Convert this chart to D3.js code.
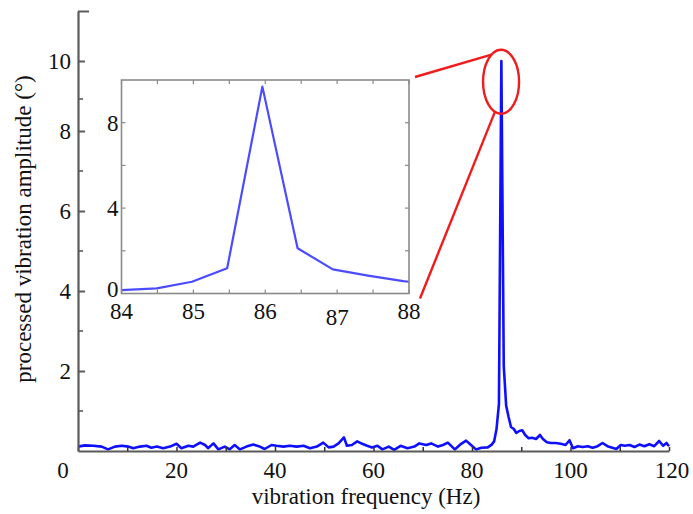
<!DOCTYPE html>
<html>
<head>
<meta charset="utf-8">
<script src="https://cdn.jsdelivr.net/npm/d3@7/dist/d3.min.js"></script>
<style>
  html, body { margin: 0; padding: 0; background: #ffffff; }
  svg { display: block; }
  text { font-family: "Liberation Serif", "Times New Roman", Times, serif; fill: #111; }
</style>
</head>
<body>
<svg id="chart" width="693" height="514"></svg>
<script>
// ---------- data ----------
const freqHz = [
  0, 1.4, 3.1, 4.8, 6.1, 7.5, 8.9, 10.2, 11.2, 12.6, 13.9, 14.9, 16.0, 17.3, 18.7, 20.0,
  21.0, 22.4, 23.4, 24.8, 25.8, 26.4, 27.5, 28.5, 29.8, 30.8, 31.8, 32.9, 34.2, 35.6,
  36.9, 37.9, 39.3, 40.3, 41.7, 43.0, 44.4, 45.8, 47.1, 48.5, 49.8, 50.9, 51.9, 52.9,
  54.0, 54.6, 55.6, 56.7, 57.7, 58.7, 59.7, 60.8, 61.8, 63.1, 64.2, 65.5, 66.9, 68.3,
  69.3, 70.7, 71.7, 73.1, 74.1, 75.1, 76.5, 77.8, 78.8, 79.8, 80.8, 81.9, 83.2,
  84.0, 84.49, 84.98, 85.47, 85.96, 86.45, 86.94, 87.43, 87.92,
  88.5, 89.0, 89.6, 90.2, 90.8, 91.5, 92.2, 93.0, 93.8, 94.4, 95.2, 96.0, 97.0, 98.0,
  99.0, 99.8, 100.5, 101.5, 102.5, 103.5, 104.5, 105.5, 106.5, 107.5, 108.5, 109.3,
  110.2, 111.0, 112.0, 113.0, 114.0, 115.0, 116.0, 117.0, 118.0, 118.8, 119.5, 120.0
];
const amplitude = [
  0.11, 0.14, 0.13, 0.11, 0.04, 0.11, 0.13, 0.11, 0.07, 0.11, 0.13, 0.08, 0.11, 0.07, 0.11, 0.18,
  0.07, 0.13, 0.11, 0.21, 0.15, 0.07, 0.19, 0.04, 0.11, 0.04, 0.15, 0.04, 0.11, 0.16,
  0.11, 0.05, 0.15, 0.13, 0.11, 0.13, 0.11, 0.13, 0.07, 0.11, 0.21, 0.09, 0.11, 0.19,
  0.34, 0.13, 0.15, 0.24, 0.18, 0.13, 0.09, 0.13, 0.04, 0.11, 0.03, 0.13, 0.07, 0.11,
  0.19, 0.15, 0.19, 0.11, 0.15, 0.21, 0.04, 0.18, 0.26, 0.15, 0.04, 0.08, 0.09,
  0.16, 0.24, 0.55, 1.18, 9.75, 2.12, 1.13, 0.85, 0.60,
  0.55, 0.45, 0.50, 0.52, 0.40, 0.32, 0.33, 0.30, 0.40, 0.30, 0.22, 0.20, 0.20, 0.18,
  0.15, 0.27, 0.07, 0.12, 0.10, 0.12, 0.08, 0.12, 0.20, 0.12, 0.08, 0.05,
  0.15, 0.13, 0.15, 0.10, 0.16, 0.12, 0.17, 0.12, 0.25, 0.13, 0.20, 0.12
];
// zoomed inset around the resonance
const insetFreq = [84.0, 84.49, 84.98, 85.47, 85.96, 86.45, 86.94, 87.43, 87.92, 88.41];
const insetAmp  = [0.16, 0.24, 0.55, 1.18, 9.69, 2.12, 1.13, 0.84, 0.58, 0.40];

const xTicks = [0, 10, 20, 30, 40, 50, 60, 70, 80, 90, 100, 110, 120];
const xTickLabels = [0, 20, 40, 60, 80, 100, 120];
const yTickValues = [2, 4, 6, 8, 9.75, 11];
const yTickLabels = ["2", "4", "6", "8", "10", ""];
const yMinorTicks = [1, 3, 5, 7, 8.8];
const insetXTicks = [84, 84.5, 85, 85.5, 86, 86.5, 87, 87.5, 88];
const insetXLabels = [84, 85, 86, 87, 88];
const insetYTicks = [2, 4, 6, 8];
const insetYLabels = [0, 4, 8];
const xTitle = "vibration frequency (Hz)";
const yTitle = "processed vibration amplitude (°)";

// ---------- layout ----------
const svg = d3.select("#chart");
const x = d3.scaleLinear().domain([0, 120]).range([78, 669]);
const y = d3.scaleLinear().domain([0, 11]).range([451, 11]);

const ix = d3.scaleLinear().domain([84, 88]).range([121.5, 409]);
const iy = d3.scaleLinear().domain([0, 10]).range([293.5, 80]);

const axisColor = "#5a5a5a";
const fontSize = 23;

// ---------- main plot ----------
const line = d3.line().x(d => x(d[0])).y(d => y(d[1]));
svg.append("path")
  .datum(d3.zip(freqHz, amplitude))
  .attr("d", line)
  .attr("fill", "none")
  .attr("stroke", "#0f0fff")
  .attr("stroke-width", 2.6)
  .attr("stroke-linejoin", "round");

// x axis
const xAxis = d3.axisBottom(x).tickValues(xTicks).tickSize(0).tickFormat("");
const gx = svg.append("g").attr("transform", `translate(0,${y(0)})`).call(xAxis);
gx.select(".domain").attr("stroke", axisColor).attr("stroke-width", 2.2);
gx.selectAll(".tick line").remove();
gx.selectAll(".tick").append("line")
  .attr("y1", 0).attr("y2", -4).attr("stroke", "#333").attr("stroke-width", 1.5);

svg.append("g").selectAll("text")
  .data(xTickLabels)
  .join("text")
  .attr("x", d => d === 0 ? x(d) - 15 : (d === 120 ? x(d) + 3 : x(d)))
  .attr("y", y(0) + 27)
  .attr("text-anchor", "middle")
  .attr("font-size", fontSize)
  .text(d => d);

// y axis
const yAxis = d3.axisLeft(y).tickValues(yTickValues).tickSize(0).tickFormat("");
const gy = svg.append("g").attr("transform", `translate(${x(0)},0)`).call(yAxis);
gy.select(".domain").attr("stroke", axisColor).attr("stroke-width", 2.2);
gy.selectAll(".tick line").remove();
gy.selectAll(".tick").append("line")
  .attr("x1", 0).attr("x2", d => d === 11 ? 11 : 7)
  .attr("stroke", axisColor).attr("stroke-width", 2);
gy.selectAll(".tick").append("text")
  .attr("x", -7).attr("dy", "0.33em")
  .attr("text-anchor", "end")
  .attr("font-size", fontSize)
  .style("font-family", '"Liberation Serif", "Times New Roman", serif')
  .attr("fill", "#111")
  .text((d, i) => yTickLabels[i]);
svg.append("g").selectAll("line")
  .data(yMinorTicks)
  .join("line")
  .attr("x1", x(0)).attr("x2", x(0) + 5)
  .attr("y1", d => y(d)).attr("y2", d => y(d))
  .attr("stroke", axisColor).attr("stroke-width", 1.6);

// titles
svg.append("text")
  .attr("x", 366).attr("y", 504)
  .attr("text-anchor", "middle")
  .attr("font-size", fontSize)
  .text(xTitle);
svg.append("text")
  .attr("transform", "translate(31,229) rotate(-90)")
  .attr("text-anchor", "middle")
  .attr("font-size", fontSize)
  .text(yTitle);

// ---------- inset ----------
const inset = svg.append("g");
inset.append("rect")
  .attr("x", ix(84)).attr("y", iy(10))
  .attr("width", ix(88) - ix(84)).attr("height", iy(0) - iy(10))
  .attr("fill", "#ffffff");

svg.append("clipPath").attr("id", "insetClip")
  .append("rect")
  .attr("x", ix(84)).attr("y", iy(10))
  .attr("width", ix(88) - ix(84)).attr("height", iy(0) - iy(10));

const iline = d3.line().x(d => ix(d[0])).y(d => iy(d[1]));
inset.append("path")
  .datum(d3.zip(insetFreq, insetAmp))
  .attr("d", iline)
  .attr("clip-path", "url(#insetClip)")
  .attr("fill", "none")
  .attr("stroke", "#4b4bff")
  .attr("stroke-width", 2.2)
  .attr("stroke-linejoin", "round");

const insetGray = "#8a8a8a";
inset.append("g").selectAll("line").data(insetXTicks).join("line")
  .attr("x1", d => ix(d)).attr("x2", d => ix(d))
  .attr("y1", iy(0)).attr("y2", iy(0) - 4)
  .attr("stroke", insetGray).attr("stroke-width", 1.2);
inset.append("g").selectAll("line").data(insetXTicks).join("line")
  .attr("x1", d => ix(d)).attr("x2", d => ix(d))
  .attr("y1", iy(10)).attr("y2", iy(10) + 4)
  .attr("stroke", insetGray).attr("stroke-width", 1.2);
inset.append("g").selectAll("line").data(insetYTicks).join("line")
  .attr("x1", ix(84)).attr("x2", ix(84) + 4)
  .attr("y1", d => iy(d)).attr("y2", d => iy(d))
  .attr("stroke", insetGray).attr("stroke-width", 1.2);
inset.append("g").selectAll("line").data(insetYTicks).join("line")
  .attr("x1", ix(88)).attr("x2", ix(88) - 4)
  .attr("y1", d => iy(d)).attr("y2", d => iy(d))
  .attr("stroke", insetGray).attr("stroke-width", 1.2);

inset.append("rect")
  .attr("x", ix(84)).attr("y", iy(10))
  .attr("width", ix(88) - ix(84)).attr("height", iy(0) - iy(10))
  .attr("fill", "none")
  .attr("stroke", insetGray).attr("stroke-width", 1.6);

inset.append("g").selectAll("text").data(insetXLabels).join("text")
  .attr("x", d => ix(d))
  .attr("y", d => iy(0) + (d === 87 ? 31 : 25))
  .attr("text-anchor", "middle")
  .attr("font-size", fontSize)
  .text(d => d);
inset.append("g").selectAll("text").data(insetYLabels).join("text")
  .attr("x", ix(84) - 3)
  .attr("y", d => iy(d) + (d === 0 ? -5 : 0))
  .attr("dy", "0.35em")
  .attr("text-anchor", "end")
  .attr("font-size", fontSize)
  .text(d => d);

// ---------- zoom annotation ----------
const ellCx = x(85.9), ellCy = y(9.23), ellRx = 18, ellRy = 32;
svg.append("ellipse")
  .attr("cx", ellCx).attr("cy", ellCy)
  .attr("rx", ellRx).attr("ry", ellRy)
  .attr("fill", "none").attr("stroke", "#ee1c1c").attr("stroke-width", 2.4);

const ang1 = -122 * Math.PI / 180, ang2 = 110 * Math.PI / 180;
svg.append("line")
  .attr("x1", ix(88) + 6).attr("y1", iy(10) - 3)
  .attr("x2", ellCx + ellRx * Math.cos(ang1)).attr("y2", ellCy + ellRy * Math.sin(ang1))
  .attr("stroke", "#ee1c1c").attr("stroke-width", 2.4);
svg.append("line")
  .attr("x1", ix(88) + 11).attr("y1", iy(0) + 5)
  .attr("x2", ellCx + ellRx * Math.cos(ang2)).attr("y2", ellCy + ellRy * Math.sin(ang2))
  .attr("stroke", "#ee1c1c").attr("stroke-width", 2.4);
</script>
</body>
</html>
